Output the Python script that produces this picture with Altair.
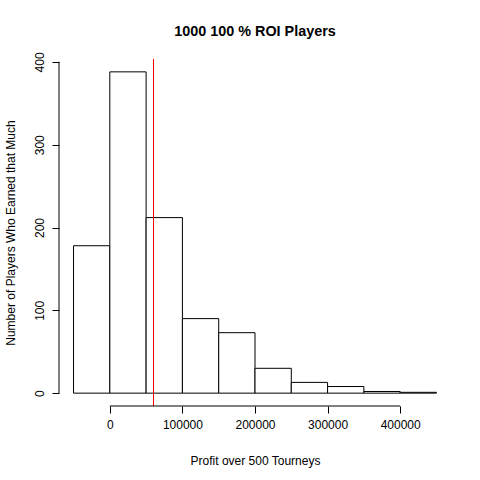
import altair as alt
import pandas as pd

# Histogram of profit over 500 tourneys (bin edges and counts)
bin_starts = [-50000, 0, 50000, 100000, 150000, 200000, 250000, 300000, 350000, 400000]
bin_ends = [0, 50000, 100000, 150000, 200000, 250000, 300000, 350000, 400000, 450000]
counts = [178, 388, 212, 90, 73, 30, 13, 8, 2, 1]
marker_x = [60000]

x_ticks = [0, 100000, 200000, 300000, 400000]
y_ticks = [0, 100, 200, 300, 400]

bars_df = pd.DataFrame({"start": bin_starts, "end": bin_ends, "count": counts})
marker_df = pd.DataFrame({"x": marker_x})
yaxis_df = pd.DataFrame({"y0": [y_ticks[0]], "y1": [y_ticks[-1]]})
xaxis_df = pd.DataFrame({"x0": [x_ticks[0]], "x1": [x_ticks[-1]]})

W, H = 392, 347
FONT = "Liberation Sans"

xscale = alt.Scale(domain=[-70000, 470000], nice=False, zero=False)
yscale = alt.Scale(domain=[-15.52, 403.52], nice=False, zero=False)

bars = alt.Chart(bars_df).mark_rect(
    fill="white", stroke="black", strokeWidth=1
).encode(
    x=alt.X("start:Q", scale=xscale, axis=alt.Axis(
        values=x_ticks, domain=False, grid=False, tickSize=7, tickColor="black",
        tickWidth=1, labelFont=FONT, labelFontSize=12, labelColor="black",
        labelPadding=6, labelFlush=False, format="d",
        title="Profit over 500 Tourneys", titleFont=FONT, titleFontSize=12,
        titleFontWeight="normal", titleColor="black", titleY=54,
        titleBaseline="middle")),
    x2="end:Q",
    y=alt.Y("count:Q", scale=yscale, axis=alt.Axis(
        values=y_ticks, domain=False, grid=False, tickSize=7, tickColor="black",
        tickWidth=1, labelFont=FONT, labelFontSize=12, labelColor="black",
        labelAngle=270, labelAlign="center", labelBaseline="bottom",
        labelPadding=6, labelFlush=False,
        title="Number of Players Who Earned that Much", titleFont=FONT,
        titleFontSize=12, titleFontWeight="normal", titleColor="black",
        titleX=-49, titleBaseline="middle")),
    y2=alt.datum(0),
)

# vertical reference line, nudged onto a pixel centre so it renders crisp
marker = alt.Chart(marker_df).mark_rule(
    color="red", strokeWidth=1, xOffset=0.13
).encode(
    x=alt.X("x:Q", scale=xscale),
)

y_axis_line = alt.Chart(yaxis_df).mark_rule(color="black", strokeWidth=1).encode(
    x=alt.value(0),
    y=alt.Y("y0:Q", scale=yscale),
    y2="y1:Q",
)

x_axis_line = alt.Chart(xaxis_df).mark_rule(color="black", strokeWidth=1).encode(
    y=alt.value(H),
    x=alt.X("x0:Q", scale=xscale),
    x2="x1:Q",
)

chart = alt.layer(bars, marker, y_axis_line, x_axis_line).properties(
    width=W,
    height=H,
    background="white",
    title=alt.TitleParams(
        "1000 100 % ROI Players", font=FONT, fontSize=14.4, fontWeight="bold",
        color="black", anchor="middle", offset=13,
    ),
    autosize=alt.AutoSizeParams(type="none"),
    padding={"left": 59, "top": 59, "right": 29, "bottom": 74},
).configure_view(strokeWidth=0, stroke="transparent")

chart.save("out.html", embed_options={"renderer": "svg", "actions": False})
